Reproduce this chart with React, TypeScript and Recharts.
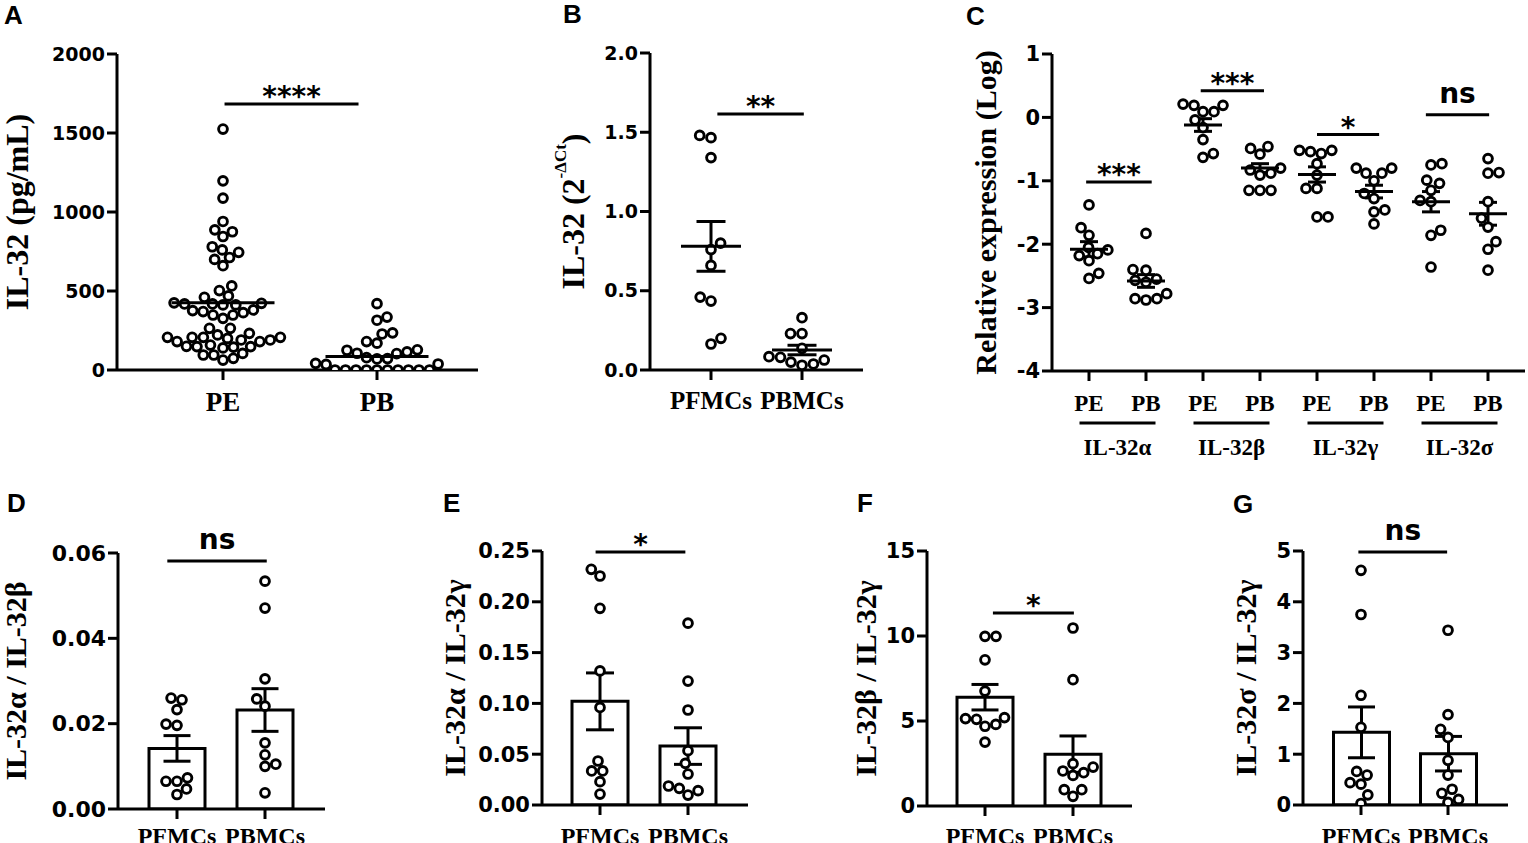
import React from 'react';
import { ComposedChart, Scatter, Bar, XAxis, YAxis, ErrorBar, ReferenceLine } from 'recharts';

type Sig = [string, number, number, number]; // label, x from, x to, y

// A: IL-32 protein (pg/mL)
const groupsA = ['PE', 'PB'];
const aPE = [1525, 1197, 1088, 940, 887, 875, 845, 780, 760, 745, 712, 700, 660, 532, 503, 469, 460, 425, 422, 418, 418, 412, 412, 380, 376, 370, 363, 348, 348, 327, 264, 264, 232, 222, 207, 207, 207, 207, 200, 190, 190, 180, 180, 158, 150, 148, 148, 145, 140, 105, 95, 95, 74, 63];
const aPB = [420, 335, 315, 235, 228, 180, 170, 128, 125, 115, 106, 104, 78, 72, 70, 42, 38, 35, 0, 0, 0, 0, 0, 0, 0, 0, 0, 0];
const aMean = [425, 85];
const ticksA = [0, 500, 1000, 1500, 2000];
const sigA: Sig = ['****', 0.01, 0.88, 1684];

// B: IL-32 mRNA (2^-dCt)
const groupsB = ['PFMCs', 'PBMCs'];
const bPF = [1.48, 1.466, 1.34, 0.8, 0.76, 0.66, 0.46, 0.435, 0.2, 0.164];
const bPB = [0.33, 0.23, 0.23, 0.137, 0.084, 0.08, 0.063, 0.05, 0.038, 0.03];
const bMean = [0.78, 0.126];
const bSem = [0.157, 0.03];
const ticksB = [0, 0.5, 1, 1.5, 2];
const sigB: Sig = ['**', 0.07, 1.02, 1.615];

// C: isoforms, relative expression (log)
const cIsoforms = ['IL-32α', 'IL-32β', 'IL-32γ', 'IL-32σ'];
const cSites = ['PE', 'PB'];
const cAlphaPE = [-1.38, -1.74, -1.86, -2.05, -2.09, -2.15, -2.18, -2.26, -2.46, -2.54];
const cAlphaPB = [-1.83, -2.4, -2.41, -2.55, -2.57, -2.6, -2.78, -2.86, -2.86, -2.88];
const cBetaPE = [0.21, 0.19, 0.19, 0.09, 0.09, -0.04, -0.16, -0.35, -0.57, -0.63];
const cBetaPB = [-0.46, -0.49, -0.58, -0.8, -0.83, -0.88, -0.91, -1.15, -1.15, -1.15];
const cGammaPE = [-0.52, -0.52, -0.54, -0.57, -0.73, -0.91, -1.12, -1.12, -1.57, -1.57];
const cGammaPB = [-0.8, -0.8, -0.88, -0.88, -1.0, -1.2, -1.28, -1.46, -1.49, -1.68];
const cSigmaPE = [-0.73, -0.75, -0.99, -1.04, -1.15, -1.31, -1.33, -1.78, -1.86, -2.36];
const cSigmaPB = [-0.65, -0.87, -0.88, -1.33, -1.59, -1.73, -1.96, -2.08, -2.41];
const cMean = [-2.08, -2.58, -0.12, -0.8, -0.9, -1.17, -1.33, -1.52];
const cSem = [0.12, 0.1, 0.1, 0.07, 0.12, 0.1, 0.16, 0.18];
const ticksC = [-4, -3, -2, -1, 0, 1];
const sigC: Sig[] = [
  ['***', -0.05, 1.1, -1.02],
  ['***', 1.96, 3.07, 0.42],
  ['*', 4.0, 5.09, -0.27],
  ['ns', 5.91, 7.02, 0.04],
];

// D-G: ratios
const dPF = [0.0256, 0.026, 0.0233, 0.0196, 0.0199, 0.0065, 0.0065, 0.0073, 0.0047, 0.0034];
const dPB = [0.0534, 0.0471, 0.0305, 0.0241, 0.0258, 0.0155, 0.0105, 0.0127, 0.01, 0.0038];
const dMean = [0.0142, 0.0232];
const dSem = [0.003, 0.005];
const ticksD = [0, 0.02, 0.04, 0.06];
const sigD: Sig = ['ns', -0.11, 1.02, 0.0581];

const ePF = [0.2254, 0.232, 0.1936, 0.132, 0.096, 0.0433, 0.0335, 0.0335, 0.023, 0.0108];
const ePB = [0.179, 0.122, 0.0935, 0.0535, 0.041, 0.0305, 0.0187, 0.0098, 0.0141, 0.0164];
const eMean = [0.102, 0.058];
const eSem = [0.028, 0.018];
const ticksE = [0, 0.05, 0.1, 0.15, 0.2, 0.25];
const sigE: Sig = ['*', -0.05, 0.97, 0.249];

const fPF = [9.98, 9.98, 8.6, 6.76, 5.14, 5.2, 4.69, 4.8, 5.1, 3.76];
const fPB = [10.47, 7.43, 2.29, 2.49, 1.8, 2.06, 1.96, 0.57, 0.96, 0.96];
const fMean = [6.4, 3.05];
const fSem = [0.75, 1.07];
const ticksF = [0, 5, 10, 15];
const sigF: Sig = ['*', 0.09, 1.01, 11.35];

const gPF = [4.62, 3.75, 2.16, 1.53, 0.44, 0.59, 0.66, 0.41, 0.2, 0.03];
const gPB = [3.44, 1.78, 1.49, 1.33, 0.88, 0.59, 0.23, 0.31, 0.11, 0.05];
const gMean = [1.43, 1.01];
const gSem = [0.5, 0.34];
const ticksG = [0, 1, 2, 3, 4, 5];
const sigG: Sig = ['ns', -0.03, 0.99, 4.98];

const BLACK = '#000';
const SANS = '"DejaVu Sans", Verdana, sans-serif';
const SERIF = '"Liberation Serif", "Times New Roman", serif';
const AX = { stroke: BLACK, strokeWidth: 3 };

type Geo = { bx: number; by: number; bw: number; bh: number; left: number; top: number; right: number; bottom: number; t0: number; k: number };

// simple beeswarm, offsets in px
function swarm(vals: number[], pxPerUnit: number, d: number): number[] {
  const order = vals.map((_, i) => i).sort((a, b) => vals[a] - vals[b]);
  const placed: { x: number; y: number }[] = [];
  const out: number[] = new Array(vals.length).fill(0);
  let flip = 1;
  for (const i of order) {
    const y = vals[i] * pxPerUnit;
    const near = placed.filter((p) => Math.abs(p.y - y) < d);
    const cands = [0];
    near.forEach((p) => {
      const dx = Math.sqrt(d * d - (p.y - y) ** 2);
      cands.push(p.x + dx, p.x - dx);
    });
    const ok = cands.filter((c) => near.every((p) => (p.x - c) ** 2 + (p.y - y) ** 2 >= d * d - 0.5));
    ok.sort((a, b) => {
      const da = Math.abs(a) - Math.abs(b);
      return Math.abs(da) < 0.01 ? flip * (b - a) : da;
    });
    const x = ok[0] ?? 0;
    if (Math.abs(x) > 0.01) flip = -flip;
    placed.push({ x, y });
    out[i] = x;
  }
  return out;
}

const Dot = (p: any) => <circle cx={p.cx} cy={p.cy} r={4.4} fill="#fff" stroke={BLACK} strokeWidth={2.9} />;
const meanShape = (half: number) => (p: any) => (
  <line x1={p.cx - half} x2={p.cx + half} y1={p.cy} y2={p.cy} stroke={BLACK} strokeWidth={3} />
);

const sigLine = ([text, x1, x2, y]: Sig, key: number | string) => (
  <ReferenceLine
    key={key}
    xAxisId="a_num"
    segment={[{ x: x1, y }, { x: x2, y }]}
    stroke={BLACK}
    strokeWidth={3}
    ifOverflow="visible"
    label={{ value: text, position: 'top', offset: text === 'ns' ? 12 : -2, fill: BLACK, fontFamily: SANS, fontWeight: 700, fontSize: 28 }}
  />
);

const yLabel = (dx: number, size: number, node: React.ReactNode) => ({
  content: (p: any) => {
    const vb = p.viewBox;
    const x = vb.x + dx;
    const y = vb.y + vb.height / 2;
    return (
      <text x={x} y={y} transform={`rotate(-90 ${x} ${y})`} textAnchor="middle" dominantBaseline="central" fontFamily={SERIF} fontWeight={700} fontSize={size} fill={BLACK}>
        {node}
      </text>
    );
  },
});

type PanelProps = {
  geo: Geo;
  names: string[];
  groups: number[][];
  means: number[];
  sems?: number[];
  yTicks: number[];
  yFmt: (v: number) => string;
  label: any;
  yTickSize: number;
  xTickSize: number;
  xTickMargin: number;
  sig: Sig;
  bars?: boolean;
  meanHalf?: number;
  capHalf: number;
  dotD: number;
};

function TwoGroupPanel(pr: PanelProps) {
  const { geo, names, groups, means, sems, yTicks, bars } = pr;
  const plotW = geo.right - geo.left;
  const yDom: [number, number] = [yTicks[0], yTicks[yTicks.length - 1]];
  const xDom: [number, number] = [(geo.left - geo.t0) / geo.k, (geo.right - geo.t0) / geo.k];
  const pyu = (geo.bottom - geo.top) / (yDom[1] - yDom[0]);
  const pts = groups.flatMap((vals, g) => {
    const offs = swarm(vals, pyu, pr.dotD);
    return vals.map((v, i) => ({ x: g + offs[i] / geo.k, y: v }));
  });
  const meanData = means.map((m, g) => ({ x: g, y: m, sem: sems ? sems[g] : 0 }));
  const barData = names.map((n, g) => ({ name: n, y: means[g], sem: sems ? sems[g] : 0 }));
  const padL = geo.t0 - geo.left - geo.k / 2;
  const padR = plotW - 2 * geo.k - padL;
  return (
    <div style={{ position: 'absolute', left: geo.bx, top: geo.by }}>
      <ComposedChart
        width={geo.bw}
        height={geo.bh}
        data={bars ? barData : undefined}
        margin={{ top: geo.top - geo.by, right: geo.bx + geo.bw - geo.right, bottom: 0, left: 0 }}
      >
        <XAxis
          xAxisId="a_num"
          type="number"
          dataKey="x"
          domain={xDom}
          allowDataOverflow
          ticks={names.map((_, i) => i)}
          interval={0}
          tickFormatter={(v: number) => names[Math.round(v)] ?? ''}
          height={geo.by + geo.bh - geo.bottom}
          axisLine={AX}
          tickLine={AX}
          tickSize={10}
          tickMargin={pr.xTickMargin}
          tick={{ fill: BLACK, fontFamily: SERIF, fontWeight: 700, fontSize: pr.xTickSize }}
        />
        {bars && <XAxis xAxisId="b_cat" type="category" dataKey="name" hide height={0} padding={{ left: padL, right: padR }} />}
        <YAxis
          type="number"
          dataKey="y"
          domain={yDom}
          allowDataOverflow
          ticks={yTicks}
          interval={0}
          tickFormatter={pr.yFmt}
          width={geo.left - geo.bx}
          axisLine={AX}
          tickLine={AX}
          tickSize={10}
          tickMargin={2}
          tick={{ fill: BLACK, fontFamily: SANS, fontWeight: 700, fontSize: pr.yTickSize }}
          label={pr.label}
        />
        {bars && (
          <Bar xAxisId="b_cat" dataKey="y" barSize={56} fill="#fff" stroke={BLACK} strokeWidth={3} isAnimationActive={false}>
            <ErrorBar dataKey="sem" direction="y" width={pr.capHalf} stroke={BLACK} strokeWidth={3} />
          </Bar>
        )}
        <Scatter xAxisId="a_num" data={pts} dataKey="y" shape={Dot} isAnimationActive={false} />
        {!bars && (
          <Scatter xAxisId="a_num" data={meanData} dataKey="y" shape={meanShape(pr.meanHalf ?? 20)} isAnimationActive={false}>
            {sems && <ErrorBar dataKey="sem" direction="y" width={pr.capHalf} stroke={BLACK} strokeWidth={3} />}
          </Scatter>
        )}
        {sigLine(pr.sig, 'sig')}
      </ComposedChart>
    </div>
  );
}

function PanelC() {
  const geo: Geo = { bx: 950, by: 0, bw: 578, bh: 471, left: 1052, top: 54, right: 1525, bottom: 371, t0: 1089, k: 57 };
  const groups = [cAlphaPE, cAlphaPB, cBetaPE, cBetaPB, cGammaPE, cGammaPB, cSigmaPE, cSigmaPB];
  const yDom: [number, number] = [ticksC[0], ticksC[ticksC.length - 1]];
  const xDom: [number, number] = [(geo.left - geo.t0) / geo.k, (geo.right - geo.t0) / geo.k];
  const pyu = (geo.bottom - geo.top) / (yDom[1] - yDom[0]);
  const pts = groups.flatMap((vals, g) => {
    const offs = swarm(vals, pyu, 11);
    return vals.map((v, i) => ({ x: g + offs[i] / geo.k, y: v }));
  });
  const meanData = cMean.map((m, g) => ({ x: g, y: m, sem: cSem[g] }));
  // site label under every tick; under each PB tick also the isoform bracket
  const SiteTick = (p: any) => {
    const i = Math.round(p.payload.value);
    const gx = p.x - geo.k / 2;
    return (
      <g>
        <text x={p.x} y={p.y + 16} textAnchor="middle" fontFamily={SERIF} fontWeight={700} fontSize={23} fill={BLACK}>
          {cSites[i % 2]}
        </text>
        {i % 2 === 1 && (
          <>
            <line x1={gx - 38} x2={gx + 38} y1={p.y + 28} y2={p.y + 28} stroke={BLACK} strokeWidth={3} />
            <text x={gx} y={p.y + 60} textAnchor="middle" fontFamily={SERIF} fontWeight={700} fontSize={23} fill={BLACK}>
              {cIsoforms[(i - 1) / 2]}
            </text>
          </>
        )}
      </g>
    );
  };
  return (
    <div style={{ position: 'absolute', left: geo.bx, top: geo.by }}>
      <ComposedChart width={geo.bw} height={geo.bh} margin={{ top: geo.top - geo.by, right: geo.bx + geo.bw - geo.right, bottom: 0, left: 0 }}>
        <XAxis
          xAxisId="a_num"
          type="number"
          dataKey="x"
          domain={xDom}
          allowDataOverflow
          ticks={groups.map((_, i) => i)}
          interval={0}
          height={geo.bh - geo.bottom}
          axisLine={AX}
          tickLine={AX}
          tickSize={10}
          tickMargin={14}
          tick={SiteTick}
        />
        <YAxis
          type="number"
          dataKey="y"
          domain={yDom}
          allowDataOverflow
          ticks={ticksC}
          interval={0}
          width={geo.left - geo.bx}
          axisLine={AX}
          tickLine={AX}
          tickSize={10}
          tickMargin={2}
          tick={{ fill: BLACK, fontFamily: SANS, fontWeight: 700, fontSize: 21 }}
          label={yLabel(35, 30, 'Relative expression (Log)')}
        />
        <Scatter xAxisId="a_num" data={pts} dataKey="y" shape={Dot} isAnimationActive={false} />
        <Scatter xAxisId="a_num" data={meanData} dataKey="y" shape={meanShape(19)} isAnimationActive={false}>
          <ErrorBar dataKey="sem" direction="y" width={9} stroke={BLACK} strokeWidth={3} />
        </Scatter>
        {sigC.map((s, i) => sigLine(s, i))}
      </ComposedChart>
    </div>
  );
}

const ratioNames = groupsB;

export default function App() {
  const letters: [string, number, number][] = [
    ['A', 4, 24], ['B', 563, 23], ['C', 966, 25],
    ['D', 7, 512], ['E', 443, 512], ['F', 857, 512], ['G', 1233, 513],
  ];
  return (
    <div style={{ position: 'absolute', left: 0, top: 0, width: 1528, height: 843, overflow: 'hidden', background: '#fff' }}>
      <TwoGroupPanel
        geo={{ bx: 0, by: 0, bw: 490, bh: 430, left: 117, top: 54, right: 478, bottom: 370, t0: 223, k: 154 }}
        names={groupsA}
        groups={[aPE, aPB]}
        means={aMean}
        yTicks={ticksA}
        yFmt={(v) => String(v)}
        label={yLabel(17, 32, 'IL-32 (pg/mL)')}
        yTickSize={19}
        xTickSize={27}
        xTickMargin={12}
        sig={sigA}
        meanHalf={51.5}
        capHalf={0}
        dotD={10.5}
      />
      <TwoGroupPanel
        geo={{ bx: 520, by: 0, bw: 360, bh: 430, left: 650, top: 53, right: 863, bottom: 370, t0: 711, k: 91 }}
        names={groupsB}
        groups={[bPF, bPB]}
        means={bMean}
        sems={bSem}
        yTicks={ticksB}
        yFmt={(v) => v.toFixed(1)}
        label={yLabel(53, 32, <>IL-32 (2<tspan fontSize={17} dy={-13}>-ΔCt</tspan><tspan dy={13}>)</tspan></>)}
        yTickSize={19}
        xTickSize={25}
        xTickMargin={11}
        sig={sigB}
        meanHalf={30}
        capHalf={14.5}
        dotD={11.5}
      />
      <PanelC />
      <TwoGroupPanel
        geo={{ bx: 0, by: 480, bw: 340, bh: 363, left: 118, top: 553, right: 325, bottom: 809, t0: 177, k: 88 }}
        names={ratioNames}
        groups={[dPF, dPB]}
        means={dMean}
        sems={dSem}
        yTicks={ticksD}
        yFmt={(v) => v.toFixed(2)}
        label={yLabel(15, 30, 'IL-32α / IL-32β')}
        yTickSize={22}
        xTickSize={24}
        xTickMargin={8}
        sig={sigD}
        bars
        capHalf={13.5}
        dotD={11}
      />
      <TwoGroupPanel
        geo={{ bx: 420, by: 480, bw: 340, bh: 363, left: 542, top: 551, right: 748, bottom: 805, t0: 600, k: 88 }}
        names={ratioNames}
        groups={[ePF, ePB]}
        means={eMean}
        sems={eSem}
        yTicks={ticksE}
        yFmt={(v) => v.toFixed(2)}
        label={yLabel(34, 30, 'IL-32α / IL-32γ')}
        yTickSize={21}
        xTickSize={24}
        xTickMargin={12}
        sig={sigE}
        bars
        capHalf={14}
        dotD={11}
      />
      <TwoGroupPanel
        geo={{ bx: 830, by: 480, bw: 320, bh: 363, left: 927, top: 551, right: 1132, bottom: 806, t0: 985, k: 88 }}
        names={ratioNames}
        groups={[fPF, fPB]}
        means={fMean}
        sems={fSem}
        yTicks={ticksF}
        yFmt={(v) => String(v)}
        label={yLabel(35, 30, 'IL-32β / IL-32γ')}
        yTickSize={21}
        xTickSize={24}
        xTickMargin={11}
        sig={sigF}
        bars
        capHalf={13.5}
        dotD={11}
      />
      <TwoGroupPanel
        geo={{ bx: 1200, by: 480, bw: 328, bh: 363, left: 1303, top: 551, right: 1508, bottom: 805, t0: 1361, k: 87 }}
        names={ratioNames}
        groups={[gPF, gPB]}
        means={gMean}
        sems={gSem}
        yTicks={ticksG}
        yFmt={(v) => String(v)}
        label={yLabel(45, 30, 'IL-32σ / IL-32γ')}
        yTickSize={21}
        xTickSize={24}
        xTickMargin={12}
        sig={sigG}
        bars
        capHalf={13.5}
        dotD={11}
      />
      <svg width={1528} height={843} style={{ position: 'absolute', left: 0, top: 0, pointerEvents: 'none' }}>
        {letters.map(([t, x, y]) => (
          <text key={t} x={x} y={y} fontFamily='"Liberation Sans", Arial, sans-serif' fontWeight={700} fontSize={26} fill={BLACK}>
            {t}
          </text>
        ))}
      </svg>
    </div>
  );
}
